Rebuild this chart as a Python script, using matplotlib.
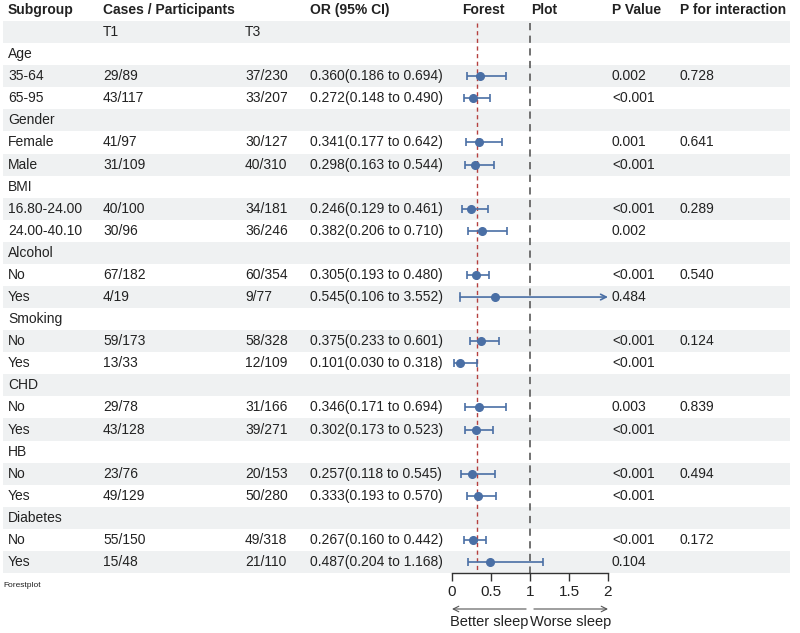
import matplotlib
matplotlib.use("Agg")
import matplotlib.pyplot as plt

plt.rcParams['font.family'] = ['Liberation Sans', 'DejaVu Sans']

# rows of the table (group header rows have no values)
labels = ['Age', '35-64', '65-95', 'Gender', 'Female', 'Male', 'BMI', '16.80-24.00', '24.00-40.10',
          'Alcohol', 'No', 'Yes', 'Smoking', 'No', 'Yes', 'CHD', 'No', 'Yes',
          'HB', 'No', 'Yes', 'Diabetes', 'No', 'Yes']
t1 = ['', '29/89', '43/117', '', '41/97', '31/109', '', '40/100', '30/96',
      '', '67/182', '4/19', '', '59/173', '13/33', '', '29/78', '43/128',
      '', '23/76', '49/129', '', '55/150', '15/48']
t3 = ['', '37/230', '33/207', '', '30/127', '40/310', '', '34/181', '36/246',
      '', '60/354', '9/77', '', '58/328', '12/109', '', '31/166', '39/271',
      '', '20/153', '50/280', '', '49/318', '21/110']
orv = [None, 0.360, 0.272, None, 0.341, 0.298, None, 0.246, 0.382,
       None, 0.305, 0.545, None, 0.375, 0.101, None, 0.346, 0.302,
       None, 0.257, 0.333, None, 0.267, 0.487]
lo = [None, 0.186, 0.148, None, 0.177, 0.163, None, 0.129, 0.206,
      None, 0.193, 0.106, None, 0.233, 0.030, None, 0.171, 0.173,
      None, 0.118, 0.193, None, 0.160, 0.204]
hi = [None, 0.694, 0.490, None, 0.642, 0.544, None, 0.461, 0.710,
      None, 0.480, 3.552, None, 0.601, 0.318, None, 0.694, 0.523,
      None, 0.545, 0.570, None, 0.442, 1.168]
pval = ['', '0.002', '<0.001', '', '0.001', '<0.001', '', '<0.001', '0.002',
        '', '<0.001', '0.484', '', '<0.001', '<0.001', '', '0.003', '<0.001',
        '', '<0.001', '<0.001', '', '<0.001', '0.104']
pint = ['', '0.728', '', '', '0.641', '', '', '0.289', '',
        '', '0.540', '', '', '0.124', '', '', '0.839', '',
        '', '0.494', '', '', '0.172', '']
headers = ['Subgroup', 'Cases / Participants', 'OR (95% CI)', 'Forest', 'Plot', 'P Value', 'P for interaction']
xticks = [0, 0.5, 1, 1.5, 2]
ref_line = 0.32

txt = '#222222'
band = '#eff1f2'
blue = '#4a6fa5'

W, H = 800, 633
fig = plt.figure(figsize=(W / 100, H / 100), dpi=100)

# table axes: x in pixels, y in row index
ax = fig.add_axes([0, 0, 1, 1])
row0, step = 10, 22.08
ax.set_xlim(0, W)
ax.set_ylim((H - row0) / step, -row0 / step)
ax.axis('off')

nrows = len(labels) + 2
for i in range(nrows):
    if i % 2 == 1:
        ax.axhspan(i - 0.5, i + 0.5, xmin=3 / W, xmax=790 / W, color=band, lw=0, zorder=0)

hx = [8, 103, 310, 462, 531, 612, 680]
for x, h in zip(hx, headers):
    ax.text(x, 0, h, fontsize=10, fontweight='bold', color=txt, va='center', ha='left')
ax.text(103, 1, 'T1', fontsize=10, color=txt, va='center')
ax.text(245, 1, 'T3', fontsize=10, color=txt, va='center')

for k, lab in enumerate(labels):
    y = k + 2
    ax.text(8, y, lab, fontsize=10, color=txt, va='center')
    ax.text(103, y, t1[k], fontsize=10, color=txt, va='center')
    ax.text(245, y, t3[k], fontsize=10, color=txt, va='center')
    if orv[k] is not None:
        ax.text(310, y, f'{orv[k]:.3f}({lo[k]:.3f} to {hi[k]:.3f})', fontsize=10, color=txt, va='center')
    ax.text(612, y, pval[k], fontsize=10, color=txt, va='center')
    ax.text(680, y, pint[k], fontsize=10, color=txt, va='center')

ax.text(3, 26.05, 'Forestplot', fontsize=6, color=txt, va='center')

# forest axes
x0, x1, yaxis = 452, 608, 573
fx = fig.add_axes([x0 / W, (H - yaxis) / H, (x1 - x0) / W, yaxis / H])
fx.set_xlim(0, 2)
fx.set_ylim((yaxis - row0) / step, -row0 / step)
fx.patch.set_alpha(0)
for s in ['top', 'right', 'left']:
    fx.spines[s].set_visible(False)
fx.spines['bottom'].set_color('#333333')
fx.spines['bottom'].set_linewidth(1.0)
fx.set_yticks([])
fx.set_xticks(xticks)
fx.set_xticklabels([f'{t:g}' for t in xticks])
fx.tick_params(axis='x', direction='out', length=6, width=1.0, colors='#333333', labelsize=11,
               labelcolor=txt, pad=3)

top = 0.6
bottom = (yaxis - row0) / step
fx.vlines(ref_line, top, bottom, colors='#b5403f', linestyles=(0, (3, 2.5)), lw=1.0, zorder=2)
fx.vlines(1, top, bottom, colors='#666666', linestyles=(0, (4, 3)), lw=1.3, zorder=2)

for k in range(len(labels)):
    if orv[k] is None:
        continue
    y = k + 2
    if hi[k] > 2:
        fx.annotate('', xy=(2, y), xytext=(lo[k], y),
                    arrowprops=dict(arrowstyle='->', color=blue, lw=1.2, shrinkA=0, shrinkB=0),
                    annotation_clip=False)
        fx.plot([lo[k], lo[k]], [y - 0.18, y + 0.18], color=blue, lw=1.2)
    else:
        fx.errorbar(orv[k], y, xerr=[[orv[k] - lo[k]], [hi[k] - orv[k]]], fmt='none',
                    ecolor=blue, elinewidth=1.2, capsize=2.8, capthick=1.2, zorder=3)
    fx.plot(orv[k], y, 'o', color=blue, ms=5.5, zorder=4)

# direction arrows under the axis
ay = -(609 - yaxis) / yaxis
fx.annotate('', xy=(0, ay), xytext=(0.95, ay), xycoords=('data', 'axes fraction'),
            arrowprops=dict(arrowstyle='->', color='#555555', lw=0.8, shrinkA=0, shrinkB=0),
            annotation_clip=False)
fx.annotate('', xy=(2, ay), xytext=(1.05, ay), xycoords=('data', 'axes fraction'),
            arrowprops=dict(arrowstyle='->', color='#555555', lw=0.8, shrinkA=0, shrinkB=0),
            annotation_clip=False)
fig.text(489 / W, 1 - 622 / H, 'Better sleep', fontsize=10.5, color=txt, ha='center', va='center')
fig.text(571 / W, 1 - 622 / H, 'Worse sleep', fontsize=10.5, color=txt, ha='center', va='center')

fig.savefig('out.png', dpi=100)
